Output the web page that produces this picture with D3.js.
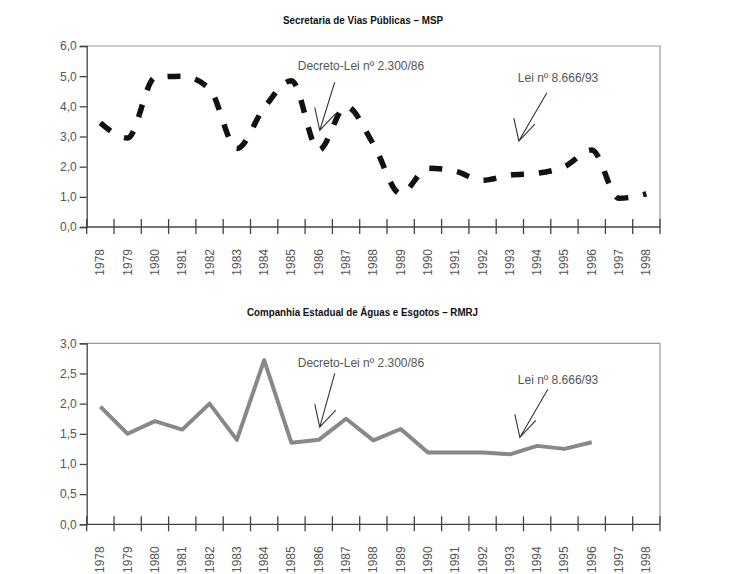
<!DOCTYPE html>
<html>
<head>
<meta charset="utf-8">
<script src="https://cdn.jsdelivr.net/npm/d3@7.9.0/dist/d3.min.js"></script>
<style>
  body { margin: 0; background: #fff; }
  .title { font-family: "Liberation Sans Narrow", "Liberation Sans", Arial, sans-serif; font-weight: bold; font-size: 11px; fill: #111; }
  .tick text { font-family: "Liberation Sans", Arial, sans-serif; font-size: 12px; fill: #555; }
  .note { font-family: "Liberation Sans", Arial, sans-serif; font-size: 12px; fill: #555; }
</style>
</head>
<body>
<svg width="729" height="574"></svg>
<script>
const years = d3.range(1978, 1999);

// Secretaria de Vias Públicas – MSP
const mspValues = [3.45, 2.95, 4.95, 5.0, 4.58, 2.6, 3.95, 4.85, 2.55, 4.0, 2.75, 1.1, 1.95, 1.85, 1.55, 1.72, 1.78, 2.0, 2.55, 0.95, 1.1];
const mspTicks = [0, 1, 2, 3, 4, 5, 6];

// Companhia Estadual de Águas e Esgotos – RMRJ
const cedaeValues = [1.95, 1.5, 1.71, 1.57, 2.0, 1.4, 2.72, 1.35, 1.4, 1.75, 1.39, 1.58, 1.19, 1.19, 1.19, 1.16, 1.3, 1.25, 1.36, null, null];
const cedaeTicks = [0, 0.5, 1, 1.5, 2, 2.5, 3];

const notes = [
  { label: "Decreto-Lei nº 2.300/86", year: 1986 },
  { label: "Lei nº 8.666/93", year: 1993 }
];

const svg = d3.select("svg");
const left = 86.7, right = 660;
const fmt = v => d3.format(".1f")(v).replace(".", ",");

function drawChart(opts) {
  const g = svg.append("g");
  const x = d3.scaleBand().domain(years).range([left, right]).padding(0);
  const y = d3.scaleLinear().domain([0, opts.max]).range([opts.bottom, opts.top]);

  g.append("text").attr("class", "title")
    .attr("x", opts.titleX).attr("y", opts.titleY)
    .attr("textLength", opts.titleW).attr("lengthAdjust", "spacingAndGlyphs")
    .text(opts.title);

  // frame
  g.append("path")
    .attr("d", `M${left},${opts.top}H${right}V${opts.bottom}`)
    .attr("fill", "none").attr("stroke", "#999").attr("stroke-width", 1.2);

  // y axis
  const ya = g.append("g").attr("transform", `translate(${left},0)`)
    .call(d3.axisLeft(y).tickValues(opts.ticks).tickFormat(fmt).tickSize(7).tickPadding(3));
  ya.select(".domain").attr("stroke", "#444").attr("stroke-width", 1.3);
  ya.selectAll(".tick line").attr("stroke", "#444").attr("stroke-width", 1.3);

  // x axis: ticks at band boundaries
  const xa = g.append("g").attr("transform", `translate(0,${opts.bottom})`);
  xa.append("line").attr("x1", left).attr("x2", right)
    .attr("stroke", "#444").attr("stroke-width", 1.3);
  const bounds = years.map(d => x(d)).concat([right]);
  xa.selectAll("line.t").data(bounds).join("line").attr("class", "t")
    .attr("x1", d => d).attr("x2", d => d).attr("y1", -8).attr("y2", 7)
    .attr("stroke", "#444").attr("stroke-width", 1.3);
  xa.selectAll("text").data(years).join("text")
    .attr("transform", d => `translate(${x(d) + x.bandwidth() / 2 + 4},16) rotate(-90)`)
    .attr("dx", -6)
    .attr("text-anchor", "end")
    .style("font-family", "'Liberation Sans', Arial, sans-serif")
    .style("font-size", "12px").style("fill", "#555")
    .text(d => d);

  // line
  const pts = years.map((d, i) => ({ year: d, v: opts.values[i] }));
  const line = d3.line()
    .defined(d => d.v != null)
    .x(d => x(d.year) + x.bandwidth() / 2)
    .y(d => y(d.v))
    .curve(opts.curve);
  g.append("path").datum(pts)
    .attr("d", line)
    .attr("fill", "none")
    .attr("stroke", opts.color)
    .attr("stroke-width", opts.width)
    .attr("stroke-dasharray", opts.dash)
    .attr("stroke-linejoin", "round");

  // annotations
  opts.notes.forEach((n, i) => {
    const cx = x(n.year) + x.bandwidth() / 2;
    const a = opts.arrows[i];
    const tipX = cx + a.dx, tipY = y(a.tip);
    g.append("text").attr("class", "note")
      .attr("x", tipX + a.tx).attr("y", y(a.textV))
      .text(n.label);
    const sx = tipX + a.sx, sy = y(a.start);
    g.append("path")
      .attr("d", `M${sx},${sy}L${tipX},${tipY}M${tipX - 5},${tipY - 23}L${tipX},${tipY}L${tipX + 16},${tipY - 17}`)
      .attr("fill", "none").attr("stroke", "#333").attr("stroke-width", 1.1);
  });
}

drawChart({
  title: "Secretaria de Vias Públicas – MSP",
  titleX: 283, titleY: 24, titleW: 160,
  top: 46, bottom: 227, max: 6, ticks: mspTicks,
  values: mspValues, color: "#111", width: 5.5, dash: "13,15",
  curve: d3.curveMonotoneX,
  notes: notes,
  arrows: [
    { dx: 1, tip: 3.2, start: 4.8, sx: 15, textV: 5.2, tx: -22 },
    { dx: 9, tip: 2.85, start: 4.45, sx: 28, textV: 4.8, tx: -1 }
  ]
});

drawChart({
  title: "Companhia Estadual de Águas e Esgotos – RMRJ",
  titleX: 247, titleY: 316, titleW: 231,
  top: 343.3, bottom: 524.3, max: 3, ticks: cedaeTicks,
  values: cedaeValues, color: "#888", width: 4, dash: null,
  curve: d3.curveLinear,
  notes: notes,
  arrows: [
    { dx: 1, tip: 1.61, start: 2.5, sx: 15, textV: 2.6, tx: -22 },
    { dx: 10, tip: 1.44, start: 2.24, sx: 28, textV: 2.32, tx: -2 }
  ]
});
</script>
</body>
</html>
